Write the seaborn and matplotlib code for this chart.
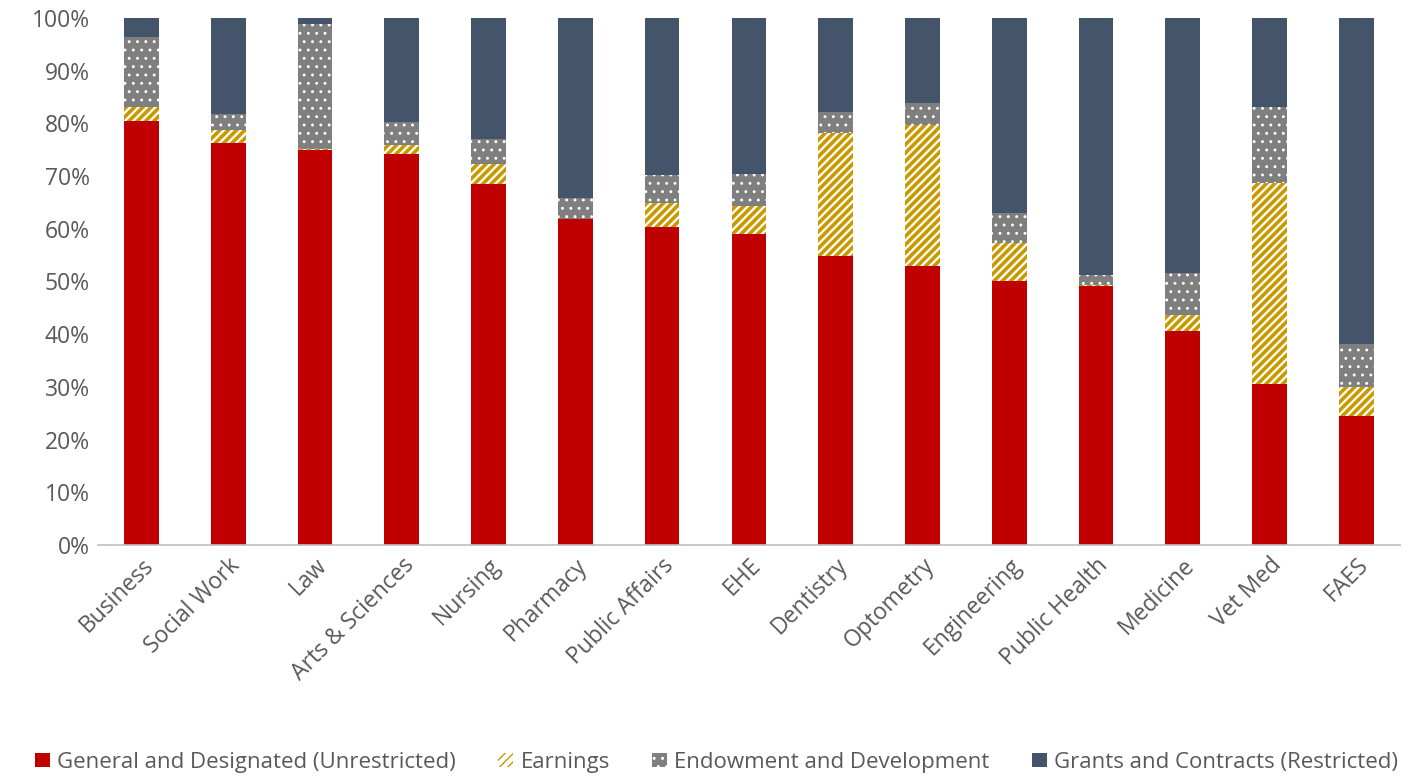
import numpy as np
import pandas as pd
import matplotlib
matplotlib.use("Agg")
import matplotlib.pyplot as plt
from matplotlib.patches import Patch
from matplotlib.ticker import PercentFormatter
import seaborn as sns

colleges = ["Business", "Social Work", "Law", "Arts & Sciences", "Nursing", "Pharmacy",
            "Public Affairs", "EHE", "Dentistry", "Optometry", "Engineering",
            "Public Health", "Medicine", "Vet Med", "FAES"]
general = [80.5, 76.3, 75.0, 74.2, 68.5, 61.9, 60.3, 59.0, 54.8, 52.9, 50.1, 49.1, 40.6, 30.6, 24.5]
earnings = [2.6, 2.4, 0.1, 1.7, 3.8, 0.0, 4.6, 5.3, 23.4, 26.8, 7.2, 0.3, 3.0, 38.1, 5.5]
endowment = [13.3, 3.1, 23.8, 4.4, 4.7, 3.9, 5.3, 6.1, 4.0, 4.2, 5.7, 1.8, 8.0, 14.4, 8.1]
grants = [100 - g - e - d for g, e, d in zip(general, earnings, endowment)]

series = ["General and Designated (Unrestricted)", "Earnings",
          "Endowment and Development", "Grants and Contracts (Restricted)"]

df = pd.DataFrame({"college": colleges, series[0]: general, series[1]: earnings,
                   series[2]: endowment, series[3]: grants})

sns.set_style("white")
plt.rcParams["font.family"] = ["Open Sans", "DejaVu Sans"]

red, gold, grey, navy = "#C00000", "#C99A00", "#7F7F7F", "#44546A"
txt = "#595959"

fig = plt.figure(figsize=(14.11, 7.77), dpi=100)
ax = fig.add_axes([0.0695, 0.2986, 0.9225, 0.6785])

styles = [
    dict(color=red, edgecolor=red, hatch=None, hlw=1.0),
    dict(color="white", edgecolor=gold, hatch="////", hlw=2.6),
    dict(color=grey, edgecolor="white", hatch="..", hlw=0.9),
    dict(color=navy, edgecolor=navy, hatch=None, hlw=1.0),
]

bottom = np.zeros(len(colleges))
for name, st in zip(series, styles):
    plt.rcParams["hatch.linewidth"] = st["hlw"]
    vals = df[name].to_numpy()
    sns.barplot(data=df, x="college", y=name, ax=ax, width=0.4, bottom=bottom,
                color=st["color"], edgecolor=st["edgecolor"], hatch=st["hatch"],
                linewidth=0, saturation=1, errorbar=None)
    bottom = bottom + vals

ax.set_ylim(0, 100)
ax.set_xlim(-0.5, len(colleges) - 0.5)
ax.yaxis.set_major_locator(plt.MultipleLocator(10))
ax.yaxis.set_major_formatter(PercentFormatter(decimals=0))
ax.set_xlabel("")
ax.set_ylabel("")
sns.despine(ax=ax, left=True)
ax.spines["bottom"].set_color("#BFBFBF")
ax.spines["bottom"].set_linewidth(1.2)
ax.tick_params(axis="both", length=0, labelsize=16.5, colors=txt, pad=6)
plt.setp(ax.get_xticklabels(), rotation=45, ha="right", rotation_mode="anchor")

legend_handles = []
for st in styles:
    plt.rcParams["hatch.linewidth"] = min(st["hlw"], 1.5)
    legend_handles.append(Patch(facecolor=st["color"], edgecolor=st["edgecolor"],
                                hatch=st["hatch"], linewidth=0))
fig.legend(legend_handles, series, loc="center", bbox_to_anchor=(0.508, 0.019), ncol=4,
           frameon=False, fontsize=16, labelcolor=txt, handlelength=0.65, handleheight=0.65,
           handletextpad=0.35, columnspacing=1.9)

fig.savefig("out.png", dpi=100)
